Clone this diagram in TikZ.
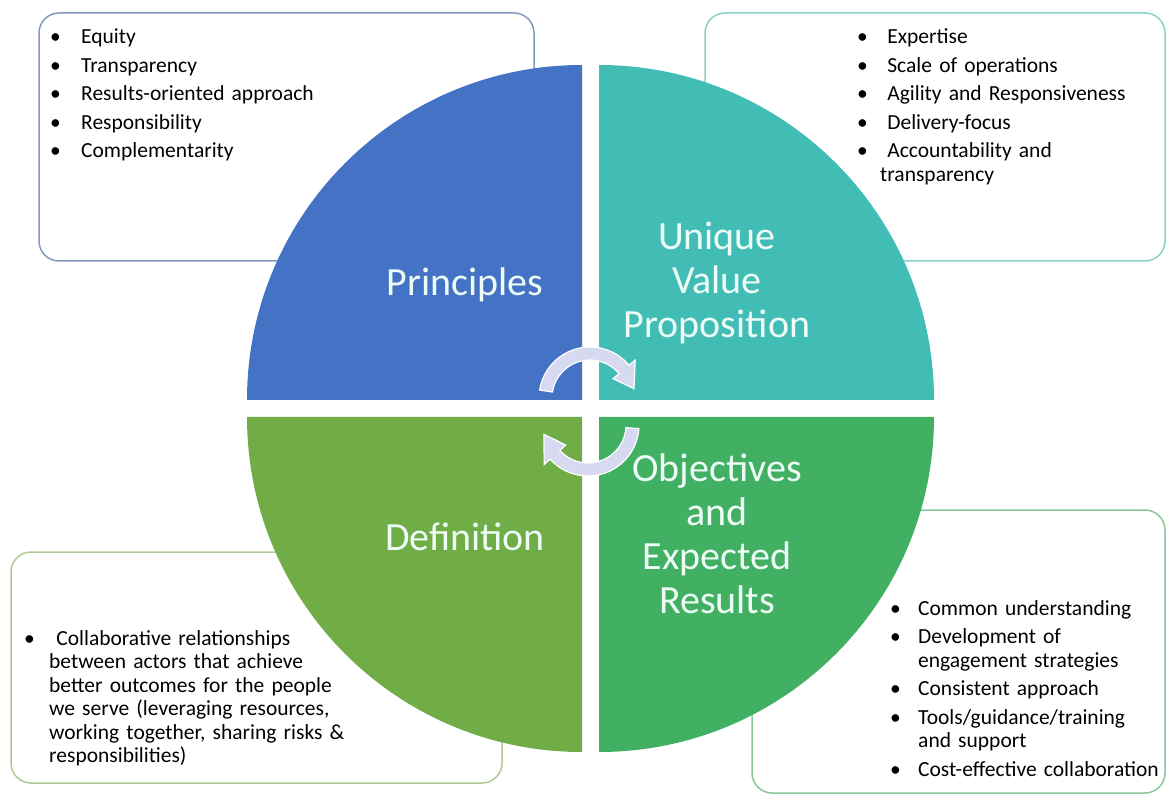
\documentclass[tikz,border=0pt]{standalone}
\usepackage{fontspec}
\setmainfont{Carlito}
\usepackage{tikz}
\definecolor{quadblue}{RGB}{68,114,196}
\definecolor{quadteal}{RGB}{65,189,182}
\definecolor{quadolive}{RGB}{112,173,71}
\definecolor{quadgreen}{RGB}{66,176,98}
\definecolor{arrowlilac}{RGB}{214,217,239}
\definecolor{edgeblue}{RGB}{132,153,192}
\definecolor{edgeteal}{RGB}{136,210,202}
\definecolor{edgeolive}{RGB}{176,201,152}
\definecolor{edgegreen}{RGB}{136,200,154}
\definecolor{labeltext}{RGB}{238,252,247}

% bullet item with hanging indent
\newlength{\bgap}
\newcommand{\bitem}[1]{\noindent\hangindent=\bgap\hangafter=1\makebox[\bgap][l]{\textbullet}#1\par}

% bent block arrow: centre, start angle, head angle, tip angle
\newcommand{\roundarrow}[4]{%
  \begin{scope}[shift={(#1)}]
    \path[fill=arrowlilac, draw=white, line width=1.2pt]
      (#2:51) arc[start angle=#2, end angle=#3, radius=51]
      -- (#3:59) -- (#4:45) -- (#3:30) -- (#3:38)
      arc[start angle=#3, end angle=#2, radius=38] -- cycle;
  \end{scope}}

\tikzset{
  notebox/.style={line width=1.5pt, rounded corners=20, fill=white},
  notes/.style={anchor=base west, inner sep=0, text width=460, align=left,
    font=\fontsize{21.5}{23.5}\selectfont,
    execute at begin node={\setlength{\parskip}{5pt}}},
  qlabel/.style={text=labeltext, align=center, inner sep=0,
    font=\fontsize{40}{44}\selectfont},
}

\begin{document}
\begin{tikzpicture}[x=1pt, y=1pt]
    \useasboundingbox (0,0) rectangle (1167,796);
    \fill[white] (0,0) rectangle (1167,796);

    % Note boxes
    \draw[notebox, draw=edgeblue]  (39,535) rectangle (534,783);
    \draw[notebox, draw=edgeteal]  (705,535) rectangle (1165,783);
    \draw[notebox, draw=edgeolive] (11,13) rectangle (502,244);
    \draw[notebox, draw=edgegreen] (752,3) rectangle (1165,286);

    % Box texts
    \setlength{\bgap}{31pt}
    \node[notes] (principlesnotes) at (50,752) {%
        \bitem{Equity}
        \bitem{Transparency}
        \bitem{Results-oriented approach}
        \bitem{Responsibility}
        \bitem{Complementarity}};
    \setlength{\bgap}{23pt}
    \node[notes] (uvpnotes) at (857,752) {%
        \bitem{\ Expertise}
        \bitem{\ Scale of operations}
        \bitem{\ Agility and Responsiveness}
        \bitem{\ Delivery-focus}
        \bitem{\ Accountability and\newline transparency}};
    \setlength{\bgap}{25pt}
    \node[notes] (definitionnotes) at (24,151) {%
        \bitem{\ Collaborative relationships\newline between actors that achieve\newline better outcomes for the people\newline we serve (leveraging resources,\newline working together, sharing risks \&\newline responsibilities)}};
    \setlength{\bgap}{28pt}
    \node[notes] (objectivesnotes) at (890,181) {%
        \bitem{Common understanding}
        \bitem{Development of\newline engagement strategies}
        \bitem{Consistent approach}
        \bitem{Tools/guidance/training\newline and support}
        \bitem{Cost-effective collaboration}};

    % Quarter discs
    \fill[quadblue]  (582,396) -- ++(-335,0) arc[start angle=180, end angle=90, radius=335] -- cycle;
    \fill[quadteal]  (599,396) -- ++(0,335) arc[start angle=90, end angle=0, radius=335] -- cycle;
    \fill[quadolive] (582,379) -- ++(0,-335) arc[start angle=270, end angle=180, radius=335] -- cycle;
    \fill[quadgreen] (599,379) -- ++(335,0) arc[start angle=0, end angle=-90, radius=335] -- cycle;

    % Quarter labels
    \node[qlabel] (principles) at (465,511) {Principles};
    \node[qlabel] (uvp) at (717,513) {Unique\\Value\\Proposition};
    \node[qlabel] (definition) at (465,259) {Definition};
    \node[qlabel] (objectives) at (717,262) {Objectives\\and\\Expected\\Results};

    % Cycle arrows
    \roundarrow{590,398}{171}{40}{12}
    \roundarrow{588,371}{-4}{-138}{-168}
\end{tikzpicture}
\end{document}
